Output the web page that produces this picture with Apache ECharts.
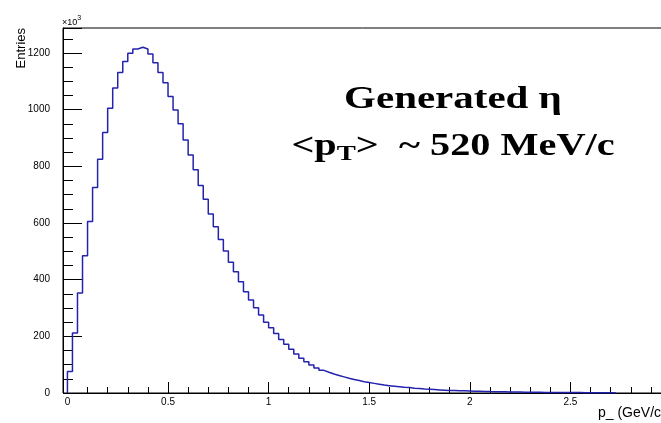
<!DOCTYPE html>
<html><head><meta charset="utf-8">
<script src="https://cdn.jsdelivr.net/npm/echarts@6/dist/echarts.min.js"></script>
<style>html,body{margin:0;padding:0;background:#fff}#c{width:661px;height:423px}</style>
</head><body><div id="c"></div>
<script>
// Histogram: generated eta pT, bins of 0.025 GeV/c starting at 0, counts in units of 10^3
const binStart = 0;
const binWidth = 0.025;
const counts = [
  76, 212, 353, 484, 605, 725, 825, 919, 1005, 1076,
  1131, 1170, 1199, 1214, 1220, 1214, 1196, 1165, 1131, 1095,
  1046, 999, 950, 893, 840, 788, 732, 684, 632, 587,
  542, 501, 461, 428, 393, 357, 328, 301, 275, 250,
  230, 210, 189, 172, 154, 138, 123, 110, 99, 88,
  80, 73, 67, 62, 57, 52, 48, 44, 40, 37,
  34, 31, 28, 26, 24, 22, 20, 19, 17, 16,
  14, 13, 12, 11, 10, 9, 8.5, 8, 7.5, 7,
  6.5, 6, 5.5, 5, 4.6, 4.3, 4, 3.7, 3.4, 3.2,
  3, 2.8, 2.6, 2.4, 2.2, 2, 1.9, 1.8, 1.7, 1.6,
  1.5, 1.4, 1.3, 1.2, 1.1, 1, 0.9, 0.8, 0.7
];
const xRange = [0, 3.0];
const xFrameMin = -0.022;
const yRange = [0, 1288];
const xMajor = 0.5;
const yMajor = 200;
const yMinor = 50;
const titleLine1 = 'Generated η';
const xTitle = 'p_ (GeV/c)';
const yTitle = 'Entries';

// step points built from bins
const pts = [[binStart, 0]];
counts.forEach((v, i) => pts.push([binStart + i * binWidth, v]));
pts.push([binStart + counts.length * binWidth, 0]);

const frameLeft = 63, frameTop = 28, frameH = 365;
const pxPerUnit = 201.2;
const dataLeft = frameLeft + (0 - xFrameMin) * pxPerUnit;
const dataW = (xRange[1] - xRange[0]) * pxPerUnit;
const frameW = dataLeft + dataW - frameLeft;

const lab = {fontFamily: 'Liberation Sans, Arial, sans-serif', fontSize: 10, color: '#000'};
const chart = echarts.init(document.getElementById('c'), null, {renderer: 'canvas'});
chart.setOption({
  animation: false,
  backgroundColor: '#fff',
  grid: [
    {left: frameLeft, top: frameTop, width: frameW, height: frameH, show: true, borderColor: '#000', borderWidth: 1, backgroundColor: 'transparent', outerBoundsMode: 'none', containLabel: false},
    {left: frameLeft, top: frameTop, width: frameW, height: frameH, outerBoundsMode: 'none', containLabel: false},
    {left: dataLeft, top: frameTop, width: dataW, height: frameH, outerBoundsMode: 'none', containLabel: false}
  ],
  xAxis: [
    {gridIndex: 0, type: 'value', min: 0, max: 1, show: false},
    {gridIndex: 1, type: 'value', min: 0, max: 1, show: false},
    {gridIndex: 2, type: 'value', min: xRange[0], max: xRange[1], interval: xMajor,
     axisLine: {show: true, lineStyle: {color: '#000', width: 1}},
     axisTick: {show: true, inside: true, length: 11, lineStyle: {color: '#000', width: 1}},
     minorTick: {show: true, splitNumber: 5, length: 6, lineStyle: {color: '#000', width: 1}},
     splitLine: {show: false},
     axisLabel: Object.assign({margin: 4, formatter: v => String(v)}, lab)}
  ],
  yAxis: [
    {gridIndex: 0, type: 'value', min: yRange[0], max: yRange[1], interval: yMajor,
     axisLine: {show: true, lineStyle: {color: '#000', width: 1}},
     axisTick: {show: true, inside: true, length: 19, lineStyle: {color: '#000', width: 1}},
     splitLine: {show: false},
     axisLabel: Object.assign({margin: 13, formatter: v => (v % yMajor === 0 ? String(v) : '')}, lab)},
    {gridIndex: 1, type: 'value', min: yRange[0], max: yRange[1], interval: yMinor,
     axisLine: {show: false},
     axisTick: {show: true, inside: true, length: 10, lineStyle: {color: '#000', width: 1}},
     splitLine: {show: false}, axisLabel: {show: false}},
    {gridIndex: 2, type: 'value', min: yRange[0], max: yRange[1], show: false}
  ],
  series: [{
    type: 'line', xAxisIndex: 2, yAxisIndex: 2, step: 'end', symbol: 'none',
    lineStyle: {color: '#2323ad', width: 1.5}, data: pts, clip: true
  }],
  graphic: [
    {type: 'text', x: 21, y: 28, rotation: Math.PI / 2,
     style: {text: yTitle, align: 'right', verticalAlign: 'middle', fill: '#000', font: '13px "Liberation Sans", Arial, sans-serif'}},
    {type: 'text', x: 62, y: 27,
     style: {text: '{a|×10}{s|3}', verticalAlign: 'bottom', fill: '#000',
       rich: {a: {fontSize: 9, fontFamily: 'Liberation Sans', fill: '#000', verticalAlign: 'bottom', lineHeight: 12},
              s: {fontSize: 7, fontFamily: 'Liberation Sans', fill: '#000', verticalAlign: 'top', lineHeight: 12}}}},
    {type: 'text', x: 598, y: 413,
     style: {text: xTitle, verticalAlign: 'middle', fill: '#000', font: '14px "Liberation Sans", Arial, sans-serif'}},
    {type: 'text', x: 453, y: 100, scaleX: 1.28, scaleY: 1,
     style: {text: titleLine1, align: 'center', verticalAlign: 'middle', fill: '#000', font: 'bold 32px "Liberation Serif", "Times New Roman", serif'}},
    {type: 'text', x: 453, y: 148, scaleX: 1.3, scaleY: 1,
     style: {text: '{a|<p}{b|T}{a|>  ~ 520 MeV/c}', align: 'center', verticalAlign: 'middle', fill: '#000',
       rich: {a: {fontSize: 31, fontWeight: 'bold', fontFamily: 'Liberation Serif', fill: '#000', lineHeight: 34, verticalAlign: 'top'},
              b: {fontSize: 22, fontWeight: 'bold', fontFamily: 'Liberation Serif', fill: '#000', lineHeight: 34, verticalAlign: 'bottom'}}}}
  ]
});
</script></body></html>
